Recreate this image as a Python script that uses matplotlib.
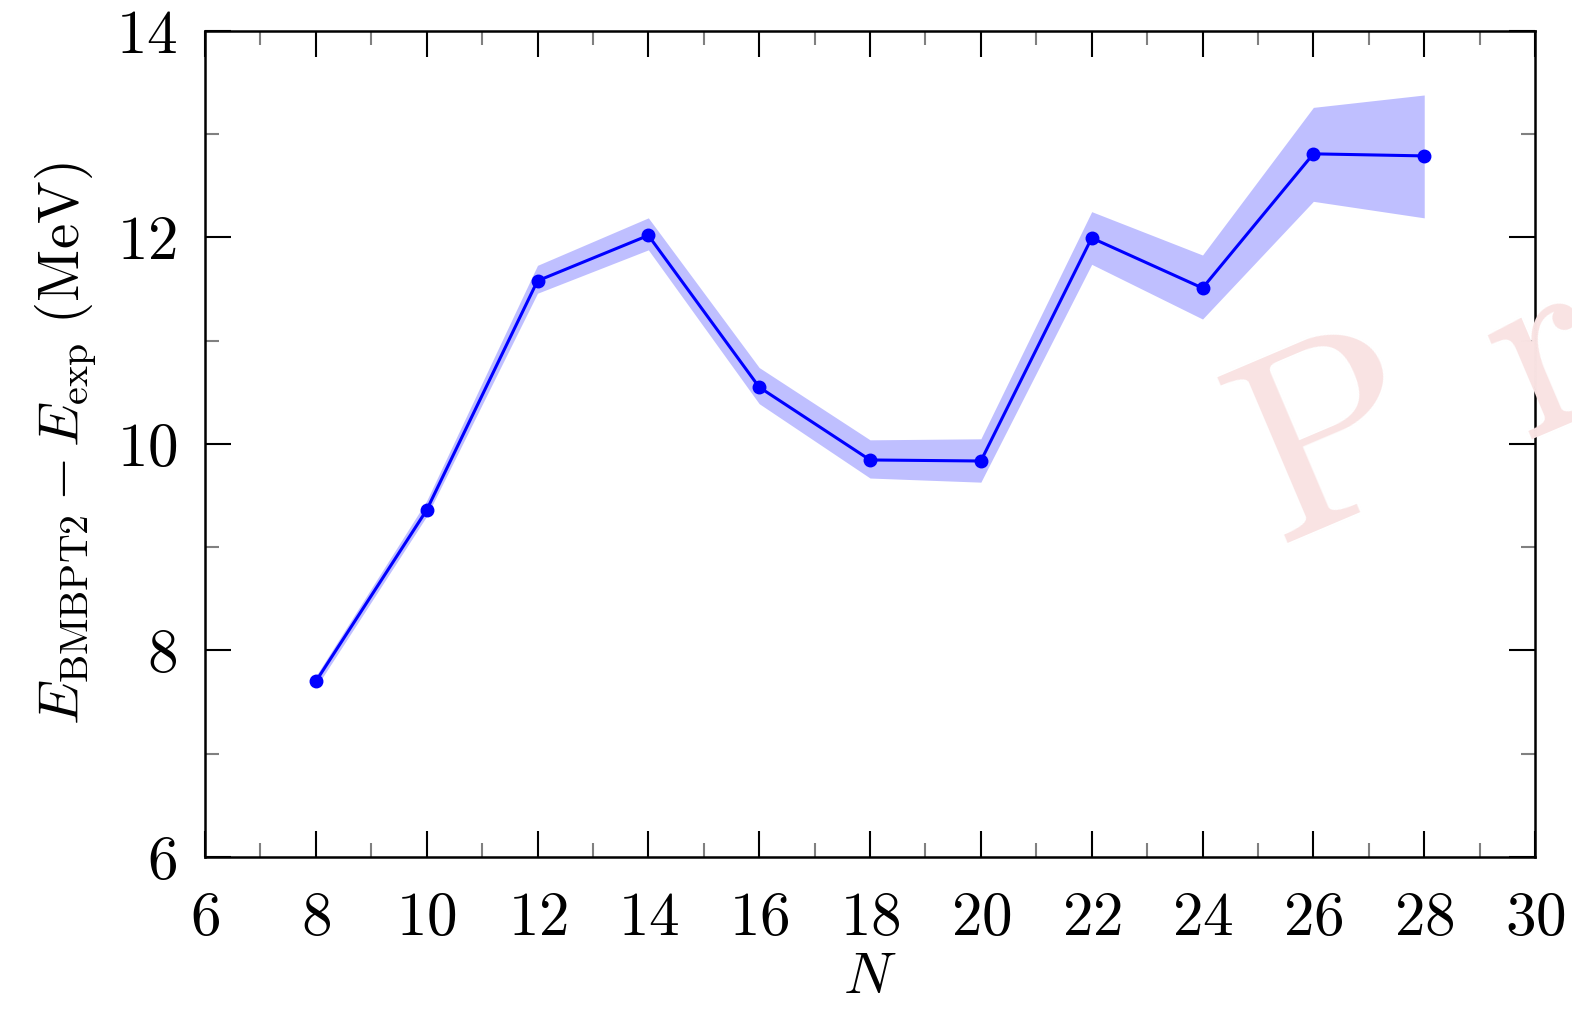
import numpy as np
import matplotlib
matplotlib.use("Agg")
import matplotlib.pyplot as plt
from matplotlib.ticker import MultipleLocator

plt.rcParams['font.family'] = 'serif'
plt.rcParams['font.serif'] = ['cmr10']
plt.rcParams['mathtext.fontset'] = 'cm'
plt.rcParams['axes.formatter.use_mathtext'] = True
plt.rcParams['axes.unicode_minus'] = False

# data
N = [8, 10, 12, 14, 16, 18, 20, 22, 24, 26, 28]
dE = [7.70, 9.36, 11.58, 12.02, 10.55, 9.845, 9.835, 11.995, 11.51, 12.81, 12.79]
dE_hi = [7.75, 9.45, 11.73, 12.19, 10.74, 10.04, 10.05, 12.25, 11.83, 13.26, 13.38]
dE_lo = [7.64, 9.30, 11.46, 11.88, 10.39, 9.67, 9.63, 11.74, 11.21, 12.35, 12.19]

fig = plt.figure(figsize=(15.72, 10.09), dpi=100)
ax = fig.add_axes([0.1304, 0.1507, 0.8461, 0.8186])
ax.patch.set_alpha(0)

ax.fill_between(N, dE_lo, dE_hi, color='#bfbfff', lw=0, zorder=2)
ax.plot(N, dE, '-o', color='#0000ff', lw=2.2, ms=9, zorder=3)

ax.set_xlim(6, 30)
ax.set_ylim(6, 14)
ax.xaxis.set_major_locator(MultipleLocator(2))
ax.xaxis.set_minor_locator(MultipleLocator(1))
ax.yaxis.set_major_locator(MultipleLocator(2))
ax.yaxis.set_minor_locator(MultipleLocator(1))
ax.tick_params(which='both', direction='in', top=True, right=True, labelsize=44)
ax.tick_params(which='major', length=19, width=1.5, color='k')
ax.tick_params(which='minor', length=10, width=1.5, color='#808080')
ax.tick_params(axis='x', which='major', pad=25)
ax.tick_params(axis='y', which='major', pad=20)
for s in ax.spines.values():
    s.set_linewidth(1.8)

ax.set_xlabel(r'$N$', fontsize=42, labelpad=4)
ax.set_ylabel(r'$E_{\rm BMBPT2} - E_{\rm exp}\ (\rm MeV)$', fontsize=41, labelpad=12)

# watermark
fig.text(0.814, 0.459, 'P r e l i m i n a r y', fontsize=190, color='#f9e3e3',
         rotation=23, rotation_mode='anchor', ha='left', va='baseline', zorder=0)

fig.savefig('out.png', dpi=100)
